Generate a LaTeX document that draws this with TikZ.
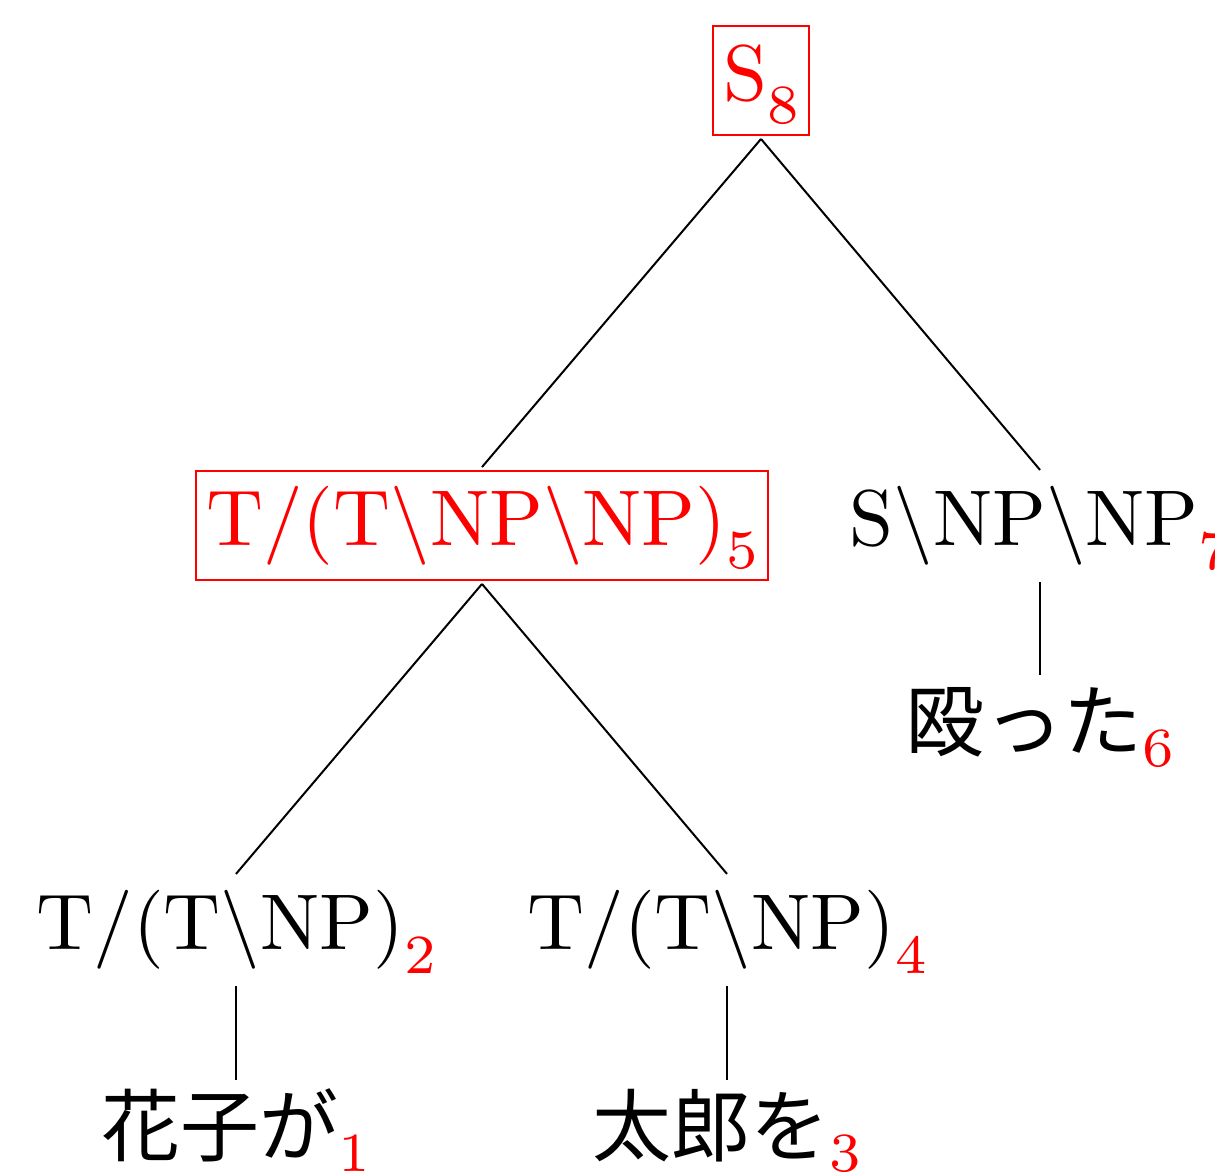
\documentclass[tikz,border=0pt]{standalone}
\usepackage{fontspec}
\newfontfamily\cjk{Noto Sans CJK JP}
\newcommand\idx[1]{\raisebox{-3pt}{\fontsize{7}{8}\selectfont\color{red}#1}}
\newcommand\jidx[1]{\raisebox{-2pt}{\fontsize{7}{8}\selectfont\color{red}#1}}
\newcommand\bs{\textbackslash}
\tikzset{
  tnode/.style={font=\fontsize{10}{12}\selectfont, scale=3.95, transform shape,
    text height=7.5pt, text depth=2.5pt,
    inner xsep=1.3pt, inner ysep=1.9pt, anchor=center},
  hl/.style={tnode, draw=red, line width=1pt, text=red},
  edge/.style={draw=black, line width=1pt}
}
\begin{document}
\begin{tikzpicture}[x=0.5pt,y=-0.5pt]
\useasboundingbox (0,0) rectangle (1215,1174);
\node[hl] (s8) at (761,80.5) {S\idx{8}};
\node[hl] (t5) at (482,525.5) {T/(T\bs NP\bs NP)\idx{5}};
\node[tnode] (snp7) at (1040,526) {S\bs NP\bs NP\idx{7}};
\node[tnode] (nag6) at (1040,731) {{\cjk 殴った}\jidx{6}};
\node[tnode] (t2) at (236,930) {T/(T\bs NP)\idx{2}};
\node[tnode] (t4) at (727,930) {T/(T\bs NP)\idx{4}};
\node[tnode] (ha1) at (236,1136) {{\cjk 花子が}\jidx{1}};
\node[tnode] (ta3) at (727,1136) {{\cjk 太郎を}\jidx{3}};
\draw[edge] (s8.south) -- (t5.north);
\draw[edge] (s8.south) -- (snp7.north);
\draw[edge] (t5.south) -- (t2.north);
\draw[edge] (t5.south) -- (t4.north);
\draw[edge] (snp7.south) -- (nag6.north);
\draw[edge] (t2.south) -- (ha1.north);
\draw[edge] (t4.south) -- (ta3.north);
\end{tikzpicture}
\end{document}
